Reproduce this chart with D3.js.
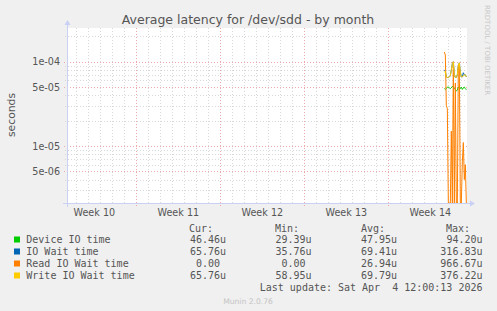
<!DOCTYPE html>
<html><head><meta charset="utf-8">
<script src="https://cdn.jsdelivr.net/npm/d3@7"></script>
<style>
html,body{margin:0;padding:0;background:#f0f0f0;}
svg{display:block;}
text{font-family:"DejaVu Sans",sans-serif;}
.mono{font-family:"DejaVu Sans Mono",monospace;white-space:pre;}
</style></head><body>
<script>
// ---- data ----
const title = "Average latency for /dev/sdd - by month";
const yLabel = "seconds";
const seriesNames = ["Device IO time", "IO Wait time", "Read IO Wait time", "Write IO Wait time"];
const seriesColors = ["#00CC00", "#0066B3", "#FF8000", "#FFCC00"];
const weekLabels = ["Week 10", "Week 11", "Week 12", "Week 13", "Week 14"];
const weekMidpoints = ["2026-03-05T12:00Z", "2026-03-12T12:00Z", "2026-03-19T12:00Z", "2026-03-26T12:00Z", "2026-04-02T12:00Z"];
const weekStarts = ["2026-03-09T00:00Z", "2026-03-16T00:00Z", "2026-03-23T00:00Z", "2026-03-30T00:00Z"];
const yMajorTicks = [1e-4, 5e-5, 1e-5, 5e-6];
const yMajorLabels = ["1e-04", "5e-05", "1e-05", "5e-06"];
const yMinorTicks = [3e-6, 4e-6, 6e-6, 7e-6, 8e-6, 9e-6, 2e-5, 3e-5, 4e-5, 6e-5, 7e-5, 8e-5, 9e-5, 2e-4];
const firstSample = "2026-04-03T16:00Z"; // samples every 2 hours
const deviceIO = [4.8e-5,4.7e-5,4.8e-5,5.0e-5,5.0e-5,4.9e-5,4.8e-5,4.9e-5,5.1e-5,5.0e-5,4.8e-5,4.7e-5,4.5e-5,4.6e-5,5.0e-5,4.9e-5,4.8e-5,5.0e-5,4.7e-5,4.9e-5,5.0e-5,4.8e-5,4.65e-5];
const ioWait   = [8.0e-5,7.7e-5,6.6e-5,6.5e-5,6.5e-5,6.6e-5,6.8e-5,8.0e-5,9.5e-5,1.0e-4,7.0e-5,6.5e-5,6.5e-5,7.0e-5,9.0e-5,9.7e-5,7.5e-5,6.6e-5,6.6e-5,7.4e-5,7.0e-5,7.0e-5,6.6e-5];
const readIO   = [1.3e-4,1.2e-4,3.0e-5,2.8e-5,0,0,0,1.5e-5,0,9.0e-5,0,5.6e-5,0,0,9.0e-5,9.5e-5,0,0,6.5e-6,1.1e-5,4.0e-6,6.0e-6,0];
const writeIO  = [7.5e-5,7.7e-5,6.6e-5,6.5e-5,6.5e-5,6.6e-5,6.8e-5,8.0e-5,9.5e-5,1.0e-4,7.0e-5,6.5e-5,6.5e-5,7.0e-5,9.0e-5,9.7e-5,7.5e-5,6.6e-5,6.6e-5,6.8e-5,7.0e-5,7.0e-5,6.6e-5];
const legendHeaders = ["Cur:", "Min:", "Avg:", "Max:"];
const legendCur = ["46.46u", "65.76u", "0.00 ", "65.76u"];
const legendMin = ["29.39u", "35.76u", "0.00 ", "58.95u"];
const legendAvg = ["47.95u", "69.41u", "26.94u", "69.79u"];
const legendMax = ["94.20u", "316.83u", "966.67u", "376.22u"];
const lastUpdate = "Last update: Sat Apr  4 12:00:13 2026";
const watermark = "RRDTOOL / TOBI OETIKER";
const footer = "Munin 2.0.76";

// ---- layout ----
const W = 497, H = 311;
const L = 67, R = 467, T = 28, B = 203;
const svg = d3.select("body").append("svg").attr("width", W).attr("height", H);
svg.append("rect").attr("width", W).attr("height", H).attr("fill", "#f0f0f0");

const x = d3.scaleUtc().domain([new Date("2026-03-03T05:20Z"), new Date("2026-04-05T13:20Z")]).range([L, R]);
const y = d3.scaleLog().domain([2.11e-6, 2.51e-4]).range([B, T]).clamp(true);

svg.append("rect").attr("x", L).attr("y", T).attr("width", R - L).attr("height", B - T).attr("fill", "#ffffff");

const g = svg.append("g");
const minorColor = "#d9d9d9", majorColor = "#eeaaaa";
// minor vertical grid (days)
const days = d3.utcDay.range(x.domain()[0], x.domain()[1]);
const weekSet = new Set(weekStarts.map(d => +new Date(d)));
g.selectAll(".vmin").data(days.filter(d => !weekSet.has(+d))).join("line")
  .attr("x1", d => Math.round(x(d)) + 0.5).attr("x2", d => Math.round(x(d)) + 0.5)
  .attr("y1", T).attr("y2", B + 2)
  .attr("stroke", minorColor).attr("stroke-dasharray", "1,2");
// minor horizontal grid
g.selectAll(".hmin").data(yMinorTicks).join("line")
  .attr("x1", L - 2).attr("x2", R)
  .attr("y1", d => Math.round(y(d)) + 0.5).attr("y2", d => Math.round(y(d)) + 0.5)
  .attr("stroke", minorColor).attr("stroke-dasharray", "1,2");
// major vertical grid (weeks)
g.selectAll(".vmaj").data(weekStarts.map(d => new Date(d))).join("line")
  .attr("x1", d => Math.round(x(d)) + 0.5).attr("x2", d => Math.round(x(d)) + 0.5)
  .attr("y1", T).attr("y2", B + 3)
  .attr("stroke", majorColor).attr("stroke-dasharray", "1,2");
// major horizontal grid
g.selectAll(".hmaj").data(yMajorTicks).join("line")
  .attr("x1", L - 3).attr("x2", R)
  .attr("y1", d => Math.round(y(d)) + 0.5).attr("y2", d => Math.round(y(d)) + 0.5)
  .attr("stroke", majorColor).attr("stroke-dasharray", "1,2");

// series
const t0 = new Date(firstSample);
const times = deviceIO.map((_, i) => d3.utcHour.offset(t0, 2 * i));
const allSeries = [deviceIO, ioWait, readIO, writeIO];
const line = d3.line().x((d, i) => x(times[i])).y(d => y(Math.max(d, 1e-9)));
allSeries.forEach((s, k) => {
  svg.append("path").datum(s).attr("d", line)
    .attr("fill", "none").attr("stroke", seriesColors[k]).attr("stroke-width", 1);
});

// axes
const axisColor = "#c8d0f4";
svg.append("line").attr("x1", L + 0.5).attr("x2", L + 0.5).attr("y1", B + 4).attr("y2", T - 3).attr("stroke", axisColor);
svg.append("line").attr("x1", L - 4).attr("x2", R + 3).attr("y1", B + 0.5).attr("y2", B + 0.5).attr("stroke", axisColor);
svg.append("path").attr("d", `M${L - 2.5},${T - 3} L${L + 3.5},${T - 3} L${L + 0.5},${T - 8} Z`).attr("fill", axisColor);
svg.append("path").attr("d", `M${R + 3},${B - 2.5} L${R + 3},${B + 3.5} L${R + 8},${B + 0.5} Z`).attr("fill", axisColor);

// y tick labels
svg.selectAll(".ylab").data(yMajorTicks).join("text")
  .attr("x", 60).attr("y", d => y(d) + 3.5)
  .attr("text-anchor", "end").attr("font-size", 9.6).attr("fill", "#555")
  .text((d, i) => yMajorLabels[i]);
// x labels
svg.selectAll(".xlab").data(weekMidpoints).join("text")
  .attr("x", d => x(new Date(d))).attr("y", 215.5)
  .attr("text-anchor", "middle").attr("font-size", 9.6).attr("fill", "#555")
  .text((d, i) => weekLabels[i]);

// title
svg.append("text").attr("x", 248).attr("y", 23.5).attr("text-anchor", "middle")
  .attr("font-size", 12.5).attr("fill", "#555").text(title);
// y label
svg.append("text").attr("transform", "translate(15,115) rotate(-90)").attr("text-anchor", "middle")
  .attr("font-size", 10.8).attr("fill", "#555").text(yLabel);
// watermark
svg.append("text").attr("transform", "translate(485,5) rotate(90)").attr("text-anchor", "start")
  .attr("font-size", 7).attr("fill", "#c8c8c8").text(watermark);

// legend
const colEnds = [226, 311.5, 397, 482.5];
const headerEnds = [213, 299, 385, 470];
svg.selectAll(".hdr").data(legendHeaders).join("text").attr("class", "mono")
  .attr("x", (d, i) => headerEnds[i]).attr("y", 231.5).attr("text-anchor", "end")
  .attr("font-size", 10).attr("fill", "#555").text(d => d);
const cols = [legendCur, legendMin, legendAvg, legendMax];
seriesNames.forEach((name, i) => {
  const yy = 243 + 12 * i;
  svg.append("rect").attr("x", 14).attr("y", yy - 6.5).attr("width", 6).attr("height", 6).attr("fill", seriesColors[i]);
  svg.append("text").attr("class", "mono").attr("x", 26.3).attr("y", yy)
    .attr("font-size", 10).attr("fill", "#555").text(name);
  cols.forEach((c, j) => {
    svg.append("text").attr("class", "mono").attr("x", colEnds[j]).attr("y", yy)
      .attr("text-anchor", "end").attr("font-size", 10).attr("fill", "#555").text(c[i]);
  });
});
svg.append("text").attr("class", "mono").attr("x", 482.5).attr("y", 291)
  .attr("text-anchor", "end").attr("font-size", 10).attr("fill", "#555").text(lastUpdate);
svg.append("text").attr("x", 248).attr("y", 303.5).attr("text-anchor", "middle")
  .attr("font-size", 7.6).attr("fill", "#c4c4c4").text(footer);
</script>
</body></html>
